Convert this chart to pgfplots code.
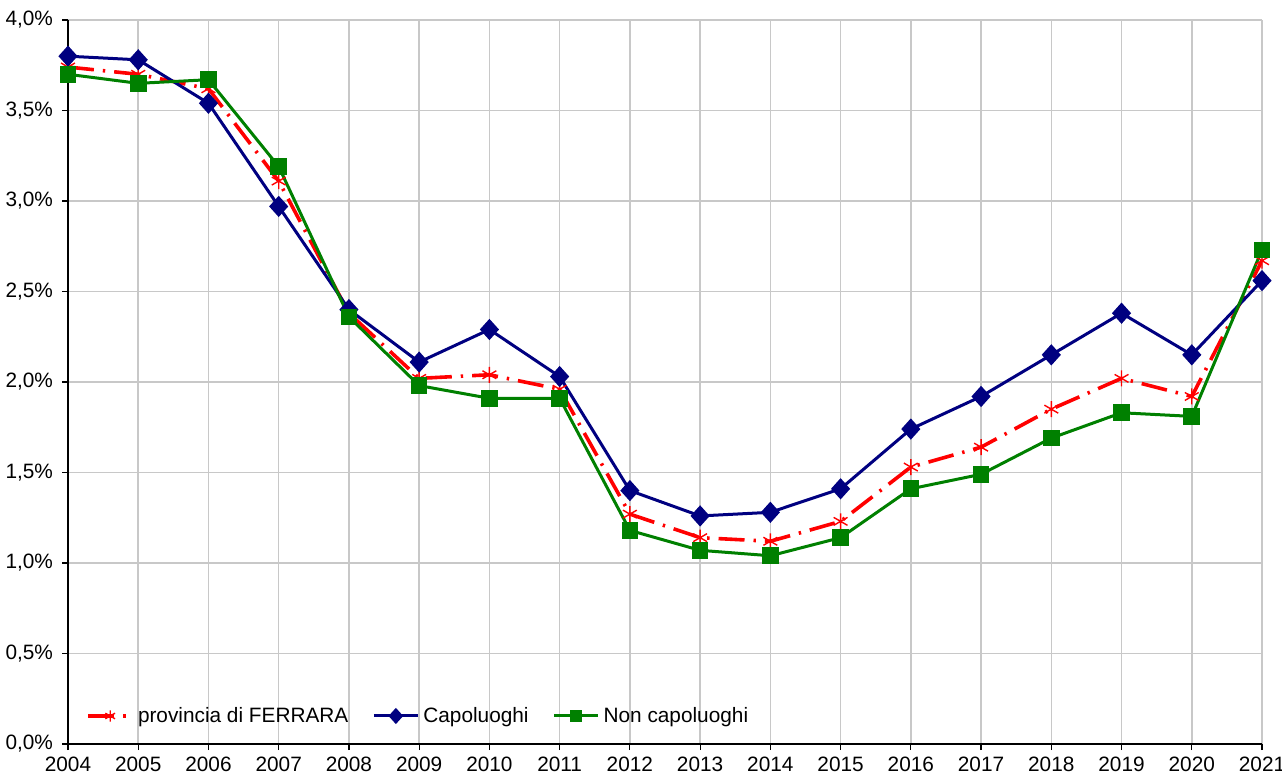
\documentclass[border=0pt]{standalone}
\usepackage{fontspec}
\setmainfont{Liberation Sans}
\usepackage{pgfplots}
\pgfplotsset{compat=1.18}

\definecolor{redline}{RGB}{255,0,0}
\definecolor{navyline}{RGB}{0,0,128}
\definecolor{greenline}{RGB}{0,128,0}
\definecolor{gridgray}{RGB}{200,200,200}

\begin{document}
\begin{tikzpicture}
\begin{axis}[
    at={(0,0)}, anchor=south west,
    scale only axis,
    width=597pt, height=362pt,
    xmin=2004, xmax=2021,
    ymin=0, ymax=4,
    xtick={2004,2005,...,2021},
    minor x tick num=1,
    ytick={0,0.5,...,4},
    yticklabels={{0,0\%},{0,5\%},{1,0\%},{1,5\%},{2,0\%},{2,5\%},{3,0\%},{3,5\%},{4,0\%}},
    /pgf/number format/assume math mode=true,
    xticklabel style={/pgf/number format/1000 sep={}},
    yticklabel style={xshift=-1pt},
    font=\fontsize{10.4}{12}\selectfont,
    axis x line*=bottom, axis y line*=left,
    axis line style={black, line width=0.6pt, -},
    tick align=outside,
    major tick length=3pt, minor tick length=0pt,
    tick style={black, line width=0.6pt},
    xmajorgrids, xminorgrids, ymajorgrids,
    grid style={gridgray, line width=0.8pt},
    minor grid style={gridgray, line width=0.8pt},
    legend columns=3,
    legend cell align=left,
    legend style={at={(0,0.0387)}, anchor=west, xshift=9pt,
        draw=none, fill=none, inner sep=0pt,
        font=\fontsize{10.4}{12}\selectfont,
        /tikz/every even column/.append style={column sep=10pt}},
    legend image code/.code={%
        \draw[mark repeat=2, mark phase=2, #1, every mark/.append style={scale=0.7}]
            plot coordinates {(0pt,0pt) (11pt,0pt) (22pt,0pt)};},
]
\coordinate (bl) at (rel axis cs:0,0);
\coordinate (tr) at (rel axis cs:1,1);

\addplot[redline, line width=1.8pt, dash pattern=on 13pt off 4.5pt on 1.2pt off 4.5pt,
    mark=asterisk, mark size=4pt, mark options={solid, line width=0.7pt}]
coordinates {
(2004,3.74) (2005,3.70) (2006,3.62) (2007,3.11) (2008,2.38) (2009,2.02)
(2010,2.04) (2011,1.96) (2012,1.27) (2013,1.14) (2014,1.12) (2015,1.23)
(2016,1.53) (2017,1.64) (2018,1.85) (2019,2.02) (2020,1.92) (2021,2.67)};
\addlegendentry{provincia di FERRARA}

\addplot[navyline, line width=1.5pt, mark=diamond*, mark size=4.2pt, mark options={xscale=1.2}]
coordinates {
(2004,3.80) (2005,3.78) (2006,3.54) (2007,2.97) (2008,2.40) (2009,2.11)
(2010,2.29) (2011,2.03) (2012,1.40) (2013,1.26) (2014,1.28) (2015,1.41)
(2016,1.74) (2017,1.92) (2018,2.15) (2019,2.38) (2020,2.15) (2021,2.56)};
\addlegendentry{Capoluoghi}

\addplot[greenline, line width=1.5pt, mark=square*, mark size=3.4pt]
coordinates {
(2004,3.70) (2005,3.65) (2006,3.67) (2007,3.19) (2008,2.36) (2009,1.98)
(2010,1.91) (2011,1.91) (2012,1.18) (2013,1.07) (2014,1.04) (2015,1.14)
(2016,1.41) (2017,1.49) (2018,1.69) (2019,1.83) (2020,1.81) (2021,2.73)};
\addlegendentry{Non capoluoghi}
\end{axis}
\pgfresetboundingbox
\path[use as bounding box] ([shift={(-34pt,-18pt)}]bl) rectangle ([shift={(10pt,10pt)}]tr);
\end{tikzpicture}
\end{document}
